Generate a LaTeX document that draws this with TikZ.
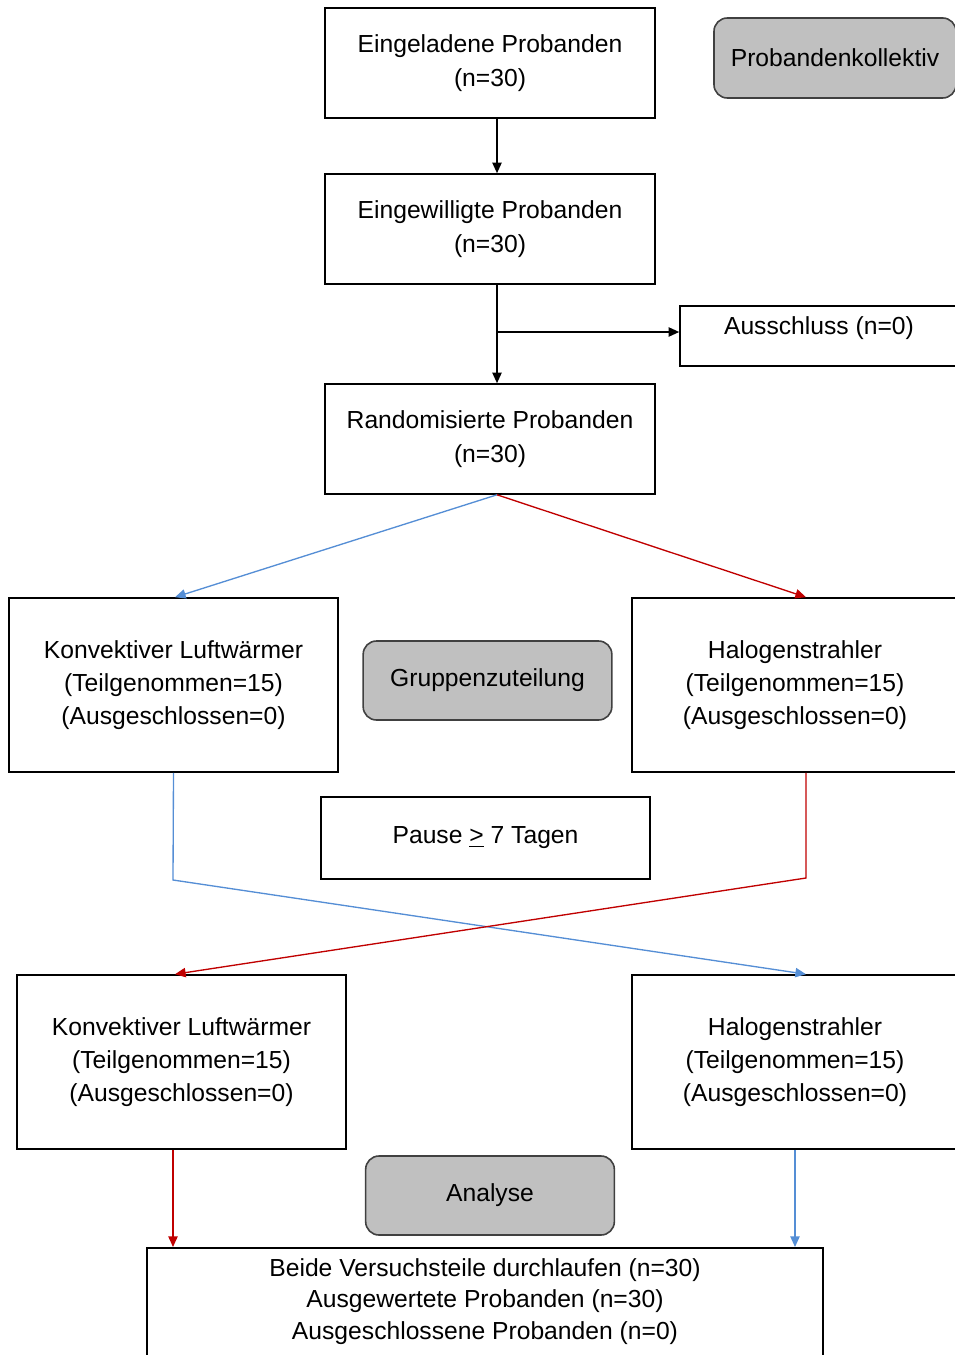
\documentclass[tikz,border=0pt]{standalone}
\usepackage{fontspec}
\setmainfont{Liberation Sans}
\usepackage{xcolor}
\usetikzlibrary{arrows.meta,calc}
\definecolor{armblue}{RGB}{85,142,213}
\definecolor{armred}{RGB}{192,0,0}
\definecolor{stagegray}{RGB}{192,192,192}

\begin{document}
\begin{tikzpicture}[x=0.75pt, y=-0.75pt,
	every node/.style={font=\fontsize{18.5}{25}\selectfont, align=center},
	stdbox/.style={draw=black, line width=1.2pt, minimum width=247.5pt, minimum height=82.5pt},
	armbox/.style={draw=black, line width=1.2pt, minimum width=246.75pt, minimum height=130.5pt},
	stagebox/.style={draw=black!75, line width=1.2pt, rounded corners=10pt, fill=stagegray, minimum width=186.5pt, minimum height=59.25pt},
	tip/.style={-{Triangle[length=8pt, width=7pt]}},
	flow/.style={tip, draw=black, line width=1.2pt},
	blueflow/.style={tip, draw=armblue, line width=1pt},
	redflow/.style={tip, draw=armred, line width=1pt}]

\useasboundingbox (0,0) rectangle (954,1355);

% Probandenkollektiv
\node[stdbox] (e1) at (490,63) {Eingeladene Probanden\\(n=30)};
\node[stagebox, minimum width=181.5pt, minimum height=60pt] (kol) at (835,58) {Probandenkollektiv};
\node[stdbox] (e2) at (490,229) {Eingewilligte Probanden\\(n=30)};
\node[draw=black, line width=1.2pt, minimum width=208.5pt, minimum height=45pt, text height=12pt, text depth=14pt] (aus) at (819,336) {Ausschluss (n=0)};
\node[stdbox] (rand) at (490,439) {Randomisierte Probanden\\(n=30)};

% Gruppenzuteilung
\node[armbox] (kt) at (173.5,685) {Konvektiver Luftwärmer\\(Teilgenommen=15)\\(Ausgeschlossen=0)};
\node[stagebox] (grp) at (487.5,680.5) {Gruppenzuteilung};
\node[armbox, minimum width=244.5pt] (ht) at (795,685) {Halogenstrahler\\(Teilgenommen=15)\\(Ausgeschlossen=0)};
\node[draw=black, line width=1.2pt, minimum width=246.75pt, minimum height=61.5pt] (pause) at (485.5,838) {Pause \underline{>} 7 Tagen};
\node[armbox] (kb) at (181.5,1062) {Konvektiver Luftwärmer\\(Teilgenommen=15)\\(Ausgeschlossen=0)};
\node[armbox, minimum width=244.5pt] (hb) at (795,1062) {Halogenstrahler\\(Teilgenommen=15)\\(Ausgeschlossen=0)};

% Analyse
\node[stagebox] (ana) at (490,1195.5) {Analyse};
\node[draw=black, line width=1.2pt, anchor=north, minimum width=507pt, inner ysep=8pt, text depth=75pt, font=\fontsize{18.5}{23.5}\selectfont] (all) at (485,1247) {Beide Versuchsteile durchlaufen (n=30)\\Ausgewertete Probanden (n=30)\\Ausgeschlossene Probanden (n=0)};

% Connections
\draw[flow] ($(e1.south)+(7,0)$) -- ($(e2.north)+(7,0)$);
\draw[flow] ($(e2.south)+(7,0)$) -- ($(rand.north)+(7,0)$);
\coordinate (br) at (497,332);
\draw[flow] (br) -- (br -| aus.west);

\draw[blueflow] ($(rand.south)+(7,0)$) -- ($(kt.north)+(1.5,0)$);
\draw[redflow] ($(rand.south)+(7,0)$) -- ($(ht.north)+(11,0)$);

% Crossover
\coordinate (bk) at (173,880);
\coordinate (rk) at (806,878);
\draw[blueflow] (kt.south) -- (bk) -- ($(hb.north)+(11,0)$);
\draw[redflow] ($(ht.south)+(11,0)$) -- (rk) -- ($(kb.north)+(-6.5,0)$);

\coordinate (kbout) at ($(kb.south)+(-8.5,0)$);
\draw[redflow] (kbout) -- (kbout |- all.north);
\draw[blueflow] (hb.south) -- (hb.south |- all.north);
\end{tikzpicture}
\end{document}
